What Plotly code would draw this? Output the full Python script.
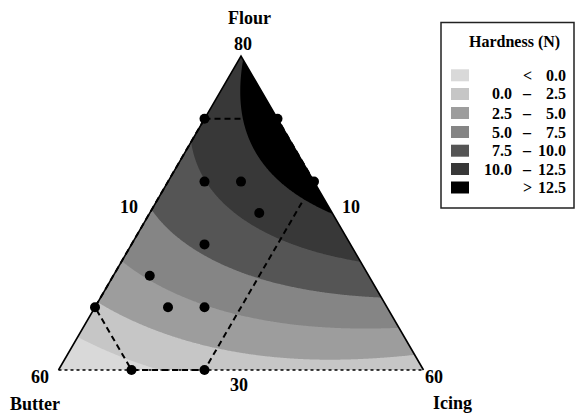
import numpy as np
import plotly.graph_objects as go

# ---------------- data ----------------
# Scheffé mixture model (pseudo-components F=flour, B=butter, I=icing), hardness in N
# terms: F, B, I, FB, FI, BI, FB(F-B), FBI, FI(F-I)
model_coefficients = [12.33, -2.76, 1.0, 10.3, 23.5, 8.55, -2.76, -10.0, 3.0]

# component bounds (%): flour 30-80, butter 10-60, icing 10-60
flour_range = [30, 80]
butter_range = [10, 60]
icing_range = [10, 60]

# design points (%)
design_flour = [70, 70, 60, 60, 60, 55, 50, 45, 40, 40, 40, 30, 30]
design_butter = [20, 10, 25, 20, 10, 20, 30, 40, 50, 40, 35, 50, 40]
design_icing = [10, 20, 15, 20, 30, 25, 20, 15, 10, 20, 25, 20, 30]

# experimental region vertices (%)
region_flour = [70, 70, 60, 30, 30, 40, 70]
region_butter = [20, 10, 10, 40, 50, 50, 20]
region_icing = [10, 20, 30, 30, 20, 10, 10]

# contour levels and colours
levels = [0.0, 2.5, 5.0, 7.5, 10.0, 12.5]
band_colors = ['#d9d9d9', '#c6c6c6', '#9d9d9d', '#858585', '#555555', '#383838', '#000000']

legend_title = 'Hardness (N)'
axis_names = ['Flour', 'Butter', 'Icing']

# ---------------- helpers ----------------
W, H = 577, 416
SPAN = flour_range[1] - flour_range[0]


def pseudo(fl, bu, ic):
    F = (np.asarray(fl, float) - flour_range[0]) / SPAN
    B = (np.asarray(bu, float) - butter_range[0]) / SPAN
    I = (np.asarray(ic, float) - icing_range[0]) / SPAN
    return F, B, I


def to_xy(fl, bu, ic):
    F, B, I = pseudo(fl, bu, ic)
    return I + 0.5 * F, F


def model(F, B, I):
    c = model_coefficients
    return (c[0] * F + c[1] * B + c[2] * I + c[3] * F * B + c[4] * F * I + c[5] * B * I
            + c[6] * F * B * (F - B) + c[7] * F * B * I + c[8] * F * I * (F - I))


# layout geometry (pixels)
X0, XW = 58.5, 365.0
Y0, YH = 370.0, 314.0


def px_x(px):
    return (px - X0) / XW


def px_y(py):
    return (Y0 - py) / YH


# ---------------- figure ----------------
N = 351
gx = np.linspace(0, 1, N)
gy = np.linspace(0, 1, N)
GX, GY = np.meshgrid(gx, gy)
Fg = GY
Ig = GX - 0.5 * GY
Bg = 1 - Fg - Ig
Z = model(Fg, Bg, Ig)

nb = len(band_colors) - 1
cs = [[i / nb, c] for i, c in enumerate(band_colors)]
step = levels[1] - levels[0]

fig = go.Figure()
fig.add_trace(go.Contour(x=gx, y=gy, z=Z, colorscale=cs, showscale=False,
                         contours=dict(start=levels[0], end=levels[-1], size=step, coloring='fill',
                                       showlines=False),
                         line=dict(width=0), hoverinfo='skip'))

# white masks outside the simplex
for poly in ([(0, 0), (0.5, 1), (0.5, 1.08), (-0.08, 1.08), (-0.08, -0.02), (0, -0.02)],
             [(1, 0), (0.5, 1), (0.5, 1.08), (1.08, 1.08), (1.08, -0.02), (1, -0.02)]):
    fig.add_trace(go.Scatter(x=[p[0] for p in poly], y=[p[1] for p in poly], fill='toself',
                             fillcolor='white', line=dict(width=0), mode='lines', hoverinfo='skip'))

# simplex edges
apex = to_xy(flour_range[1], butter_range[0], icing_range[0])
left = to_xy(flour_range[0], butter_range[1], icing_range[0])
right = to_xy(flour_range[0], butter_range[0], icing_range[1])
fig.add_trace(go.Scatter(x=[left[0], apex[0], right[0]], y=[left[1], apex[1], right[1]],
                         mode='lines', line=dict(color='black', width=1.6), hoverinfo='skip'))
fig.add_trace(go.Scatter(x=[left[0], right[0]], y=[left[1], right[1]],
                         mode='lines', line=dict(color='black', width=1.4, dash='dot'), hoverinfo='skip'))

# experimental region (dashed)
rx, ry = to_xy(region_flour, region_butter, region_icing)
fig.add_trace(go.Scatter(x=rx, y=ry, mode='lines',
                         line=dict(color='black', width=2, dash='6px,4px'), hoverinfo='skip'))

# design points
dx, dy = to_xy(design_flour, design_butter, design_icing)
fig.add_trace(go.Scatter(x=dx, y=dy, mode='markers',
                         marker=dict(color='black', size=10, line=dict(width=0)), hoverinfo='skip'))

FONT = 'Liberation Serif, Times New Roman, serif'


def label(text, px, py, size=18, xanchor='center'):
    fig.add_annotation(x=px_x(px), y=px_y(py), xref='x', yref='y', text='<b>%s</b>' % text,
                       showarrow=False, xanchor=xanchor, yanchor='middle',
                       font=dict(family=FONT, size=size, color='black'))


label(axis_names[0], 249, 18)
label('%d' % flour_range[1], 243, 44)
label('%d' % icing_range[0], 129, 207)
label('%d' % butter_range[0], 351, 207)
label('%d' % butter_range[1], 40, 377)
label('%d' % flour_range[0], 239, 385)
label('%d' % icing_range[1], 434, 377)
label(axis_names[1], 35, 404)
label(axis_names[2], 452, 403)


def pxp(px):
    return px / W


def pyp(py):
    return 1 - py / H


# legend box
fig.add_shape(type='rect', xref='paper', yref='paper', x0=pxp(441), x1=pxp(574),
              y0=pyp(208), y1=pyp(22.5), line=dict(color='#222222', width=1.5),
              fillcolor='white', layer='above')
fig.add_annotation(x=pxp(514.5), y=pyp(41.5), xref='paper', yref='paper',
                   text='<b>%s</b>' % legend_title, showarrow=False, xanchor='center',
                   yanchor='middle', font=dict(family=FONT, size=16, color='black'))

row_y = [75.3, 94.0, 113.0, 132.0, 150.7, 169.0, 187.5]
lefts = [''] + ['%.1f' % v for v in levels[:-1]] + ['']
mids = ['<'] + ['\u2013'] * (len(levels) - 1) + ['>']
rights = ['%.1f' % levels[0]] + ['%.1f' % v for v in levels[1:]] + ['%.1f' % levels[-1]]
for k, cy in enumerate(row_y):
    fig.add_shape(type='rect', xref='paper', yref='paper', x0=pxp(451), x1=pxp(469),
                  y0=pyp(cy + 6), y1=pyp(cy - 6), line=dict(width=0),
                  fillcolor=band_colors[k], layer='above')
    for txt, xx, anc in ((lefts[k], 513.5, 'right'), (mids[k], 527, 'center'), (rights[k], 567.5, 'right')):
        if txt:
            fig.add_annotation(x=pxp(xx), y=pyp(cy), xref='paper', yref='paper',
                               text='<b>%s</b>' % txt, showarrow=False, xanchor=anc,
                               yanchor='middle', font=dict(family=FONT, size=16, color='black'))

fig.update_layout(width=W, height=H, margin=dict(l=0, r=0, t=0, b=0),
                  paper_bgcolor='white', plot_bgcolor='white', showlegend=False,
                  hovermode=False,
                  xaxis=dict(range=[px_x(0), px_x(W)], visible=False, fixedrange=True),
                  yaxis=dict(range=[px_y(H), px_y(0)], visible=False, fixedrange=True))
fig.write_html("out.html")
